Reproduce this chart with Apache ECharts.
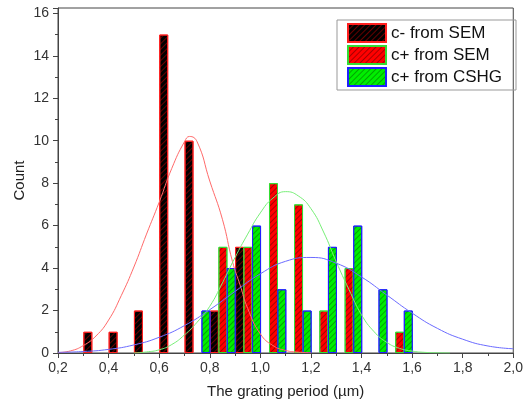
<!DOCTYPE html>
<html>
<head>
<meta charset="utf-8">
<script src="https://cdn.jsdelivr.net/npm/echarts@6/dist/echarts.min.js"></script>
<style>
  html, body { margin: 0; padding: 0; background: #fff; }
  #chart { width: 526px; height: 405px; }
</style>
</head>
<body>
<div id="chart"></div>
<script>
// Histogram of grating periods, three groups, with their Gaussian fits

// bar positions (um) and counts
const semMinusX = [0.318, 0.418, 0.518, 0.618, 0.718, 0.818, 0.918]
const semMinusN = [1, 1, 2, 15, 10, 2, 5]
const semPlusX = [0.852, 0.951, 1.052, 1.151, 1.251, 1.351, 1.551]
const semPlusN = [5, 5, 8, 7, 2, 4, 1]
const cshgX = [0.785, 0.885, 0.985, 1.085, 1.185, 1.285, 1.385, 1.485, 1.585]
const cshgN = [2, 4, 6, 3, 2, 5, 6, 3, 2]

// fit curves
const fitRedX = [0.2, 0.25, 0.3, 0.35, 0.4, 0.45, 0.5, 0.55, 0.6, 0.65, 0.7, 0.72, 0.75, 0.8, 0.85, 0.89, 0.92, 0.95, 1.0, 1.05, 1.1, 1.15, 1.2]
const fitRedY = [0.02, 0.1, 0.35, 0.8, 1.55, 2.7, 4.05, 5.6, 7.1, 8.7, 9.95, 10.2, 9.95, 8.1, 6.3, 4.3, 3.2, 2.1, 0.9, 0.35, 0.12, 0.04, 0.01]
const fitGreenX = [0.5, 0.55, 0.6, 0.65, 0.7, 0.75, 0.8, 0.85, 0.9, 0.95, 1.0, 1.05, 1.1, 1.15, 1.2, 1.25, 1.3, 1.35, 1.4, 1.45, 1.5, 1.55, 1.6, 1.65, 1.7, 1.75]
const fitGreenY = [0.0, 0.05, 0.15, 0.4, 0.85, 1.45, 2.2, 3.3, 4.5, 5.6, 6.6, 7.3, 7.6, 7.4, 6.8, 5.7, 4.3, 3.0, 1.8, 1.0, 0.5, 0.22, 0.09, 0.03, 0.01, 0.0]
const fitBlueX = [0.2, 0.3, 0.4, 0.5, 0.6, 0.7, 0.8, 0.9, 1.0, 1.1, 1.2, 1.3, 1.4, 1.5, 1.6, 1.7, 1.8, 1.9, 2.0]
const fitBlueY = [0.03, 0.07, 0.17, 0.38, 0.74, 1.29, 2.04, 2.9, 3.73, 4.32, 4.5, 4.23, 3.58, 2.73, 1.88, 1.16, 0.65, 0.33, 0.2]

const NAMES = ['c- from SEM', 'c+ from SEM', 'c+ from CSHG']
const FONT = '"Liberation Sans", Arial, sans-serif'
const AXIS = '#444'

const pairs = (xs, ys) => xs.map((x, i) => [x, ys[i]])
const hatch = (c) => ({
  symbol: 'rect', symbolSize: 1, color: c,
  dashArrayX: [1, 0], dashArrayY: [1, 2.5], rotation: -Math.PI / 4,
})

// each bar group gets its own (hidden) x axis so ECharts does not squeeze
// the widths based on the gaps between the other groups
function barSeries(idx, xs, ns, fill, edge, lines) {
  return {
    name: NAMES[idx], type: 'bar', xAxisIndex: idx, barWidth: 9,
    data: pairs(xs, ns),
    itemStyle: { color: fill, borderColor: edge, borderWidth: 1, decal: hatch(lines) },
  }
}
function fitSeries(xs, ys, color) {
  return {
    type: 'line', smooth: true, showSymbol: false, silent: true,
    data: pairs(xs, ys),
    lineStyle: { color, width: 1 },
  }
}
const hiddenX = { type: 'value', min: 0.2, max: 2.0, show: false }

const chart = echarts.init(document.getElementById('chart'))
chart.setOption({
  animation: false,
  textStyle: { fontFamily: FONT },
  grid: { left: 58, right: 8, top: 8, bottom: 52, show: true, borderColor: AXIS, borderWidth: 1 },
  legend: {
    data: NAMES, orient: 'vertical', right: 10, top: 20,
    padding: [3, 14, 3, 10], itemGap: 2, itemWidth: 38, itemHeight: 18,
    borderColor: '#999', borderWidth: 1, icon: 'rect',
    textStyle: { fontSize: 17, color: '#111', fontFamily: FONT },
  },
  xAxis: [{
    type: 'value', min: 0.2, max: 2.0, interval: 0.2,
    name: 'The grating period (µm)', nameLocation: 'middle', nameGap: 31,
    nameTextStyle: { fontSize: 15, color: '#222' },
    axisLine: { lineStyle: { color: AXIS } },
    axisTick: { length: 5, lineStyle: { color: AXIS } },
    minorTick: { show: true, splitNumber: 2, length: 3, lineStyle: { color: AXIS } },
    axisLabel: { fontSize: 14, color: '#333', margin: 8, formatter: (v) => v.toFixed(1).replace('.', ',') },
    splitLine: { show: false },
  }, hiddenX, hiddenX],
  yAxis: {
    type: 'value', min: 0, max: 16.25, interval: 2,
    name: 'Count', nameLocation: 'middle', nameGap: 31, nameMoveOverlap: false,
    nameTextStyle: { fontSize: 15, color: '#222' },
    axisLine: { show: true, lineStyle: { color: AXIS } },
    axisTick: { show: true, length: 5, lineStyle: { color: AXIS } },
    minorTick: { show: true, splitNumber: 2, length: 3, lineStyle: { color: AXIS } },
    axisLabel: { fontSize: 14, color: '#333', margin: 9, formatter: (v) => (v % 2 === 0 ? String(v) : '') },
    splitLine: { show: false },
  },
  series: [
    barSeries(0, semMinusX, semMinusN, '#000000', '#ff2020', 'rgba(170,0,0,0.6)'),
    barSeries(1, semPlusX, semPlusN, '#ff0000', '#33dd33', 'rgba(110,0,0,0.6)'),
    barSeries(2, cshgX, cshgN, '#00ee00', '#2020ff', 'rgba(0,110,0,0.55)'),
    fitSeries(fitRedX, fitRedY, '#ff6a6a'),
    fitSeries(fitGreenX, fitGreenY, '#77ee77'),
    fitSeries(fitBlueX, fitBlueY, '#6b6bff'),
  ],
})
</script>
</body>
</html>
